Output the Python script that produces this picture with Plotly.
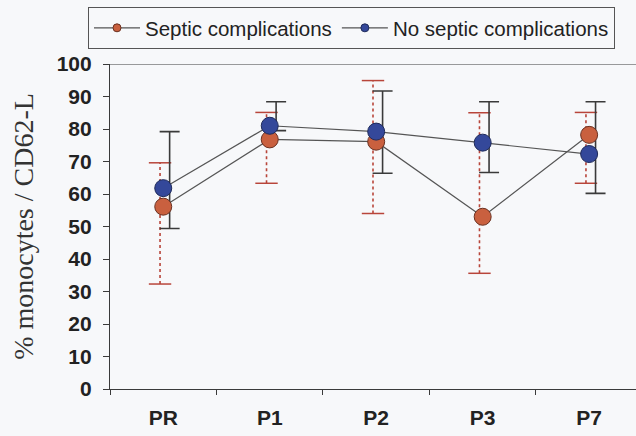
import plotly.graph_objects as go

categories = ["PR", "P1", "P2", "P3", "P7"]
septic_mean = [56.1, 76.8, 76.1, 53.0, 78.2]
septic_hi = [69.6, 85.1, 94.9, 85.0, 85.1]
septic_lo = [32.3, 63.3, 54.0, 35.6, 63.3]
nonseptic_mean = [61.8, 81.0, 79.2, 75.8, 72.3]
nonseptic_hi = [79.2, 88.4, 91.7, 88.4, 88.4]
nonseptic_lo = [49.4, 79.5, 66.4, 66.6, 60.2]
yticks = [0, 10, 20, 30, 40, 50, 60, 70, 80, 90, 100]
series_names = ["Septic complications", "No septic complications"]

RED = "#C9603F"
BLUE = "#34489A"
RED_ERR = "#B8453A"
DARK = "#3A3A3A"
BG = "#F7F8FA"

idx = list(range(len(categories)))
boundaries = [i - 0.5 for i in idx] + [idx[-1] + 0.5]
red_off = -0.03
blue_off = 0.06

fig = go.Figure()

# red dotted error bars (vertical segments)
seg_x, seg_y = [], []
for i, lo, hi in zip(idx, septic_lo, septic_hi):
    seg_x += [i + red_off, i + red_off, None]
    seg_y += [lo, hi, None]
fig.add_trace(go.Scatter(x=seg_x, y=seg_y, mode="lines",
                         line=dict(color=RED_ERR, width=1.6, dash="dot"),
                         showlegend=False, hoverinfo="skip"))
# red caps
fig.add_trace(go.Scatter(x=[i + red_off for i in idx] * 2,
                         y=septic_lo + septic_hi, mode="markers",
                         marker=dict(symbol="line-ew", size=16,
                                     line=dict(color=RED_ERR, width=1.5)),
                         showlegend=False, hoverinfo="skip"))
# blue solid error bars
fig.add_trace(go.Scatter(x=[i + blue_off for i in idx], y=nonseptic_mean,
                         mode="markers",
                         marker=dict(size=1, color="rgba(0,0,0,0)"),
                         error_y=dict(type="data", symmetric=False,
                                      array=[h - m for h, m in zip(nonseptic_hi, nonseptic_mean)],
                                      arrayminus=[m - l for m, l in zip(nonseptic_mean, nonseptic_lo)],
                                      color=DARK, thickness=1.6, width=10),
                         showlegend=False, hoverinfo="skip"))

fig.add_trace(go.Scatter(x=idx, y=septic_mean, mode="lines+markers",
                         name=series_names[0], showlegend=False,
                         line=dict(color="#555555", width=1.2),
                         marker=dict(size=17, color=RED,
                                     line=dict(color="#6A3020", width=1))))
fig.add_trace(go.Scatter(x=idx, y=nonseptic_mean, mode="lines+markers",
                         name=series_names[1], showlegend=False,
                         line=dict(color="#555555", width=1.2),
                         marker=dict(size=17, color=BLUE,
                                     line=dict(color="#1E2A5A", width=1))))

# legend entries with small markers
for name, col, edge in zip(series_names, [RED, BLUE], ["#6A3020", "#1E2A5A"]):
    fig.add_trace(go.Scatter(x=[None], y=[None], mode="lines+markers", name=name,
                             line=dict(color="#555555", width=1.2),
                             marker=dict(size=8, color=col, line=dict(color=edge, width=1))))

xrange = [-0.5, 4.44]
fig.update_layout(
    width=636, height=436,
    margin=dict(l=110, r=0, t=64, b=47),
    paper_bgcolor=BG, plot_bgcolor=BG,
    showlegend=True,
    legend=dict(orientation="h", xref="container", yref="container",
                x=88 / 636, y=1 - 7 / 436, xanchor="left", yanchor="top",
                bordercolor="#555555", borderwidth=1, bgcolor=BG,
                font=dict(family="Arial, Liberation Sans", size=20.5, color="#222222"),
                itemwidth=46, tracegroupgap=0),
    xaxis=dict(range=xrange, tickvals=idx, ticktext=categories, ticks="",
               minor=dict(tickvals=boundaries, ticks="outside", ticklen=5,
                          tickcolor=DARK, tickwidth=1, showgrid=False),
               showline=True, linecolor=DARK, linewidth=1.2,
               showgrid=False, zeroline=False,
               tickfont=dict(family="Arial, Liberation Sans", size=21, color="#222222",
                             weight="bold"),
               ticklabelstandoff=10),
    yaxis=dict(range=[0, 100], tickvals=yticks, showline=True, linecolor=DARK,
               linewidth=1.2, ticks="outside", ticklen=6, tickcolor=DARK,
               showgrid=False, zeroline=False,
               tickfont=dict(family="Arial, Liberation Sans", size=21, color="#222222",
                             weight="bold"),
               ticklabelstandoff=7,
               title=dict(text="% monocytes / CD62-L", standoff=14,
                          font=dict(family="Liberation Serif, Times New Roman", size=28,
                                    color="#333333"))),
    shapes=[dict(type="line", xref="paper", yref="y", x0=0, x1=1, y0=100, y1=100,
                 line=dict(color=DARK, width=1.2))],
)

fig.write_html("out.html", config={"displayModeBar": False},
               post_script="document.body.style.margin='0';")
